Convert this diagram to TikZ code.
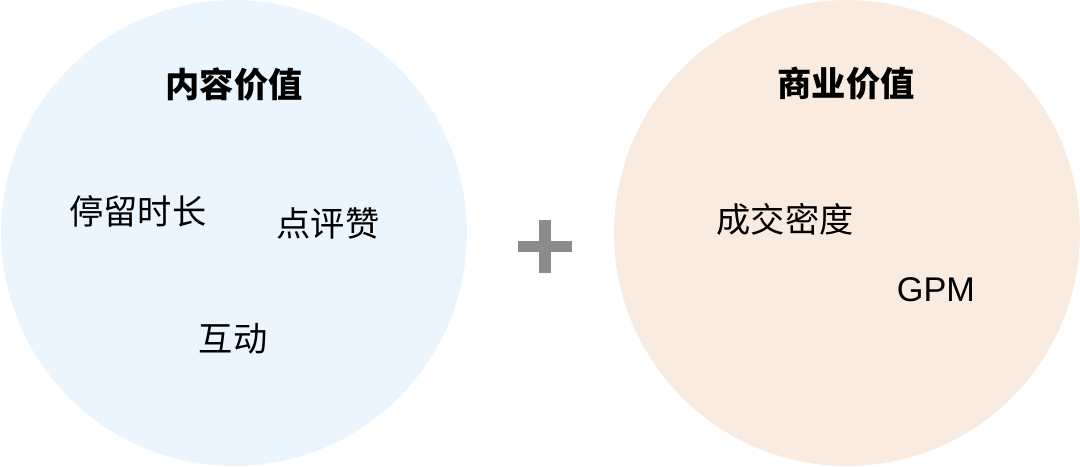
\documentclass[tikz,border=0pt]{standalone}
\usepackage{fontspec}
\setmainfont{Liberation Sans}
\newfontfamily\cjk{Noto Sans CJK SC}
\usetikzlibrary{positioning}

\definecolor{contentblue}{HTML}{EBF5FE}
\definecolor{businesspeach}{HTML}{FAEBE0}
\definecolor{plusgrey}{HTML}{8C8C8C}

\tikzset{
  valuecircle/.style={circle, minimum size=9.32cm, inner sep=0pt},
  titletext/.style={font=\cjk\bfseries\fontsize{19.5}{23}\selectfont},
  itemtext/.style={font=\cjk\fontsize{19.5}{23}\selectfont},
  latintext/.style={font=\fontsize{19.5}{23}\selectfont}
}

\begin{document}
\begin{tikzpicture}[x=0.02cm, y=-0.02cm]
    \useasboundingbox (0,0) rectangle (1080,467);

    % the two value circles
    \node[valuecircle, fill=contentblue] (content) at (234,233) {};
    \node[valuecircle, fill=businesspeach] (business) at (847,233) {};

    % content value
    \node[titletext] (contentTitle) at (234,84) {内容价值};
    \node[itemtext] (stay) at (138,211) {停留时长};
    \node[itemtext] (review) at (328,223) {点评赞};
    \node[itemtext] (interact) at (233,339) {互动};

    % business value
    \node[titletext] (businessTitle) at (846,84) {商业价值};
    \node[itemtext] (deal) at (785,219) {成交密度};
    \node[latintext] (gpm) at (936,290) {GPM};

    % plus sign
    \fill[plusgrey] (539,220) rectangle (551,273);
    \fill[plusgrey] (518,241) rectangle (572,252);
\end{tikzpicture}
\end{document}
